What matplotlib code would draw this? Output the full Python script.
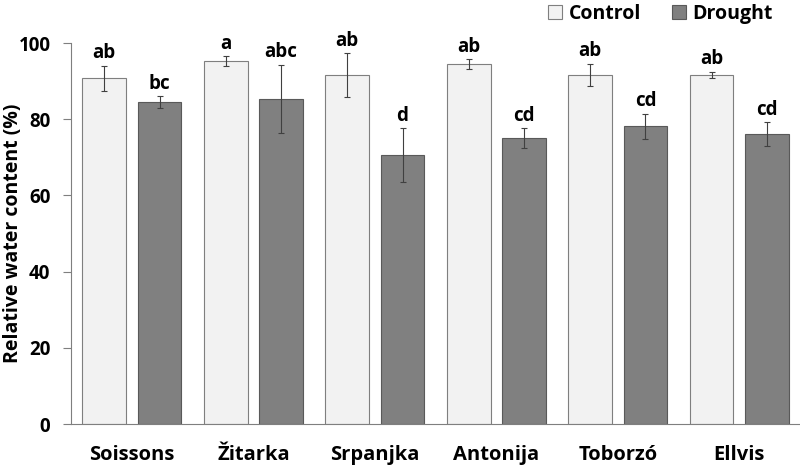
import numpy as np
import matplotlib.pyplot as plt

cultivars = ["Soissons", "Žitarka", "Srpanjka", "Antonija", "Toborzó", "Ellvis"]
control = [90.8, 95.3, 91.6, 94.5, 91.6, 91.6]
control_err = [3.3, 1.2, 5.8, 1.3, 3.0, 0.9]
drought = [84.5, 85.3, 70.6, 75.1, 78.2, 76.1]
drought_err = [1.5, 9.0, 7.0, 2.6, 3.3, 3.2]
control_letters = ["ab", "a", "ab", "ab", "ab", "ab"]
drought_letters = ["bc", "abc", "d", "cd", "cd", "cd"]

plt.rcParams["font.family"] = ["Open Sans", "DejaVu Sans"]

fig = plt.figure(figsize=(8, 4.68), dpi=100)
ax = fig.add_axes([0.089, 0.094, 0.911, 0.814])

x = np.arange(len(cultivars))
w = 0.36
off = 0.228

ax.bar(x - off, control, w, color="#f2f2f2", edgecolor="#7f7f7f", linewidth=0.8,
       label="Control", zorder=2)
ax.bar(x + off, drought, w, color="#808080", edgecolor="#595959", linewidth=0.8,
       label="Drought", zorder=2)
ax.errorbar(x - off, control, yerr=control_err, fmt="none", ecolor="#404040",
            elinewidth=0.8, capsize=2.5, capthick=0.8, zorder=3)
ax.errorbar(x + off, drought, yerr=drought_err, fmt="none", ecolor="#404040",
            elinewidth=0.8, capsize=2.5, capthick=0.8, zorder=3)

for i in range(len(cultivars)):
    ax.text(x[i] - off, control[i] + control_err[i] + 0.6, control_letters[i],
            ha="center", va="bottom", fontsize=13.5, fontweight="bold")
    ax.text(x[i] + off, drought[i] + drought_err[i] + 0.6, drought_letters[i],
            ha="center", va="bottom", fontsize=13.5, fontweight="bold")

ax.set_xlim(-0.5, len(cultivars) - 0.5)
ax.set_ylim(0, 100)
ax.set_yticks([0, 20, 40, 60, 80, 100])
ax.set_xticks(x)
ax.set_xticklabels(cultivars, fontsize=14.5, fontweight="bold")
ax.tick_params(axis="x", length=0, pad=15)
ax.tick_params(axis="y", labelsize=13.5, length=6, pad=9, color="#7f7f7f", width=0.8)
for t in ax.get_yticklabels():
    t.set_fontweight("bold")
ax.set_ylabel("Relative water content (%)", fontsize=14, fontweight="bold")
ax.yaxis.set_label_coords(-0.066, 0.5)

for s in ["top", "right"]:
    ax.spines[s].set_visible(False)
for s in ["left", "bottom"]:
    ax.spines[s].set_color("#7f7f7f")
    ax.spines[s].set_linewidth(0.8)

leg = ax.legend(loc="lower right", bbox_to_anchor=(0.968, 1.04), ncol=2, frameon=False,
                fontsize=14, handlelength=0.7, handleheight=0.7, handletextpad=0.35,
                columnspacing=1.6, borderaxespad=0.0, borderpad=0.2)
for t in leg.get_texts():
    t.set_fontweight("bold")

fig.savefig("out.png", dpi=100)
